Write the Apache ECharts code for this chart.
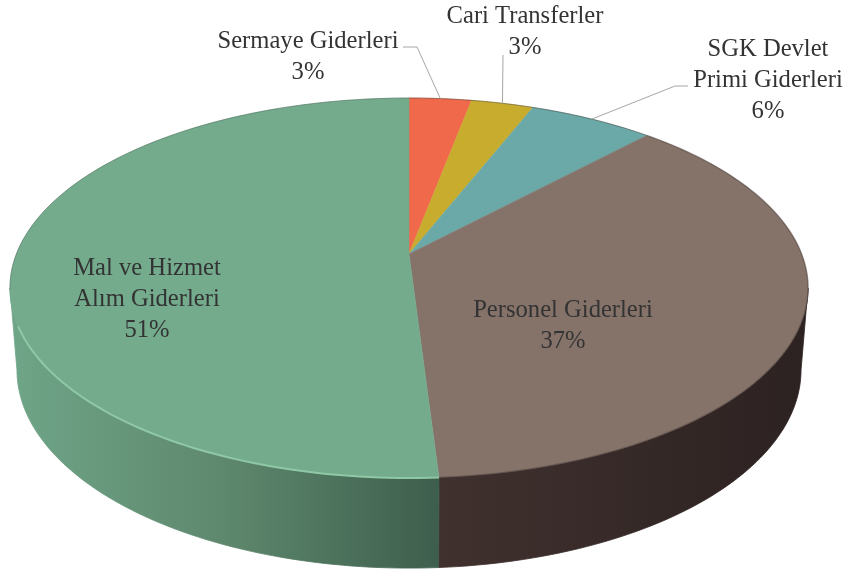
<!DOCTYPE html>
<html>
<head>
<meta charset="utf-8">
<style>
  html, body { margin: 0; background: #fff; }
  #main { width: 847px; height: 571px; }
</style>
<script src="https://cdn.jsdelivr.net/npm/echarts@6/dist/echarts.min.js"></script>
</head>
<body>
<div id="main"></div>
<script>
const categories = ['Sermaye Giderleri', 'Cari Transferler', 'SGK Devlet\nPrimi Giderleri', 'Personel Giderleri', 'Mal ve Hizmet\nAlım Giderleri'];
const values = [3, 3, 6, 37, 51];
const faceColors = ['#f0694b', '#c8ac2e', '#6aa9a8', '#85736a', '#73ab8c'];
const wallColors = [
  ['#a04530', '#a04530'],
  ['#857320', '#857320'],
  ['#467070', '#467070'],
  ['#40312e', '#2c2221'],
  ['#6fa588', '#5e886e', '#3d5e4c']
];
// label centre for each slice
const labelPos = [[308, 57], [525, 32], [768, 81], [563, 326], [147, 300]];
// outer labels get a leader line: where it leaves the text, and its elbow
const leaderStart = [[403, 47], [503, 55], [688, 86], null, null];
const leaderElbow = [[417, 47], null, [675, 86], null, null];

const total = values.reduce((a, b) => a + b, 0);
const starts = [];
values.reduce((sum, v, i) => { starts[i] = sum; return sum + v; }, 0);

// the tilted disc: circle angle (0 = back, clockwise) to screen, with perspective
const topDisc = { cx: 409, cy: 254, rx: 392.6, ry: 183.9 };
const bottomDisc = { cx: 409, cy: 334.6, rx: 385.7, ry: 191.7 };
const persp = 0.179;
// the disc's silhouette touches its left and right extremes here (in percent of the turn)
const sideRight = Math.acos(-persp) / (Math.PI * 2) * total;
const sideLeft = total - sideRight;

function project(disc, pct) {
  const a = pct / total * Math.PI * 2;
  const u = Math.sin(a), v = -Math.cos(a);
  const w = 1 / (1 - persp * v);
  return [disc.cx + disc.rx * u * w, disc.cy + disc.ry * v * w];
}

function arc(disc, from, to) {
  const pts = [];
  const n = Math.max(2, Math.ceil(Math.abs(to - from) * 3));
  for (let i = 0; i <= n; i++) pts.push(project(disc, from + (to - from) * i / n));
  return pts;
}

function renderWall(params, api) {
  const i = params.dataIndex;
  // only the front of the side wall shows
  const from = Math.max(starts[i], sideRight);
  const to = Math.min(starts[i] + api.value(0), sideLeft);
  if (to <= from) return null;
  const stops = wallColors[i].map((c, k, all) => ({ offset: k / (all.length - 1), color: c }));
  const gradient = new echarts.graphic.LinearGradient(0, 0, 1, 0, stops);
  return {
    type: 'polygon',
    shape: { points: arc(topDisc, from, to).concat(arc(bottomDisc, to, from)) },
    style: { fill: gradient, stroke: gradient, lineWidth: 0.8 }
  };
}

function renderFace(params, api) {
  const i = params.dataIndex;
  const from = starts[i], to = from + api.value(0);
  return {
    type: 'polygon',
    shape: { points: [[topDisc.cx, topDisc.cy]].concat(arc(topDisc, from, to)) },
    style: { fill: faceColors[i], stroke: faceColors[i], lineWidth: 0.5 }
  };
}

// rim highlights along the edge of the disc
function rimLine(from, to, color, width) {
  return {
    type: 'polyline',
    shape: { points: arc(topDisc, from, to) },
    style: { fill: null, stroke: color, lineWidth: width }
  };
}

function renderLabel(params, api) {
  const i = params.dataIndex;
  const v = api.value(0);
  const children = [{
    type: 'text',
    style: {
      text: categories[i] + '\n' + v + '%',
      x: labelPos[i][0],
      y: labelPos[i][1],
      align: 'center',
      verticalAlign: 'middle',
      font: '24.6px "Liberation Serif", serif',
      lineHeight: 31,
      fill: '#333'
    }
  }];
  if (leaderStart[i]) {
    const pts = [leaderStart[i]];
    if (leaderElbow[i]) pts.push(leaderElbow[i]);
    pts.push(project(topDisc, starts[i] + v / 2));
    children.push({
      type: 'polyline',
      shape: { points: pts },
      style: { fill: null, stroke: '#a6a6a6', lineWidth: 1 }
    });
  }
  return { type: 'group', children: children };
}

const myChart = echarts.init(document.getElementById('main'));
const option = {
  backgroundColor: '#fff',
  animation: false,
  series: [
    { type: 'custom', coordinateSystem: 'none', z: 1, data: values, renderItem: renderWall, silent: true },
    { type: 'custom', coordinateSystem: 'none', z: 2, data: values, renderItem: renderFace, silent: true },
    {
      type: 'custom', coordinateSystem: 'none', z: 3, data: [0], silent: true,
      renderItem: () => ({
        type: 'group',
        children: [
          rimLine(49, 69, '#8fc8a6', 2),
          rimLine(72, 100, 'rgba(60,80,70,0.5)', 0.8),
          rimLine(0, 12, 'rgba(60,50,45,0.6)', 0.8),
          rimLine(12, 49, 'rgba(50,40,38,0.35)', 1.5)
        ]
      })
    },
    { type: 'custom', coordinateSystem: 'none', z: 4, data: values, renderItem: renderLabel, silent: true }
  ]
};
myChart.setOption(option);
</script>
</body>
</html>
